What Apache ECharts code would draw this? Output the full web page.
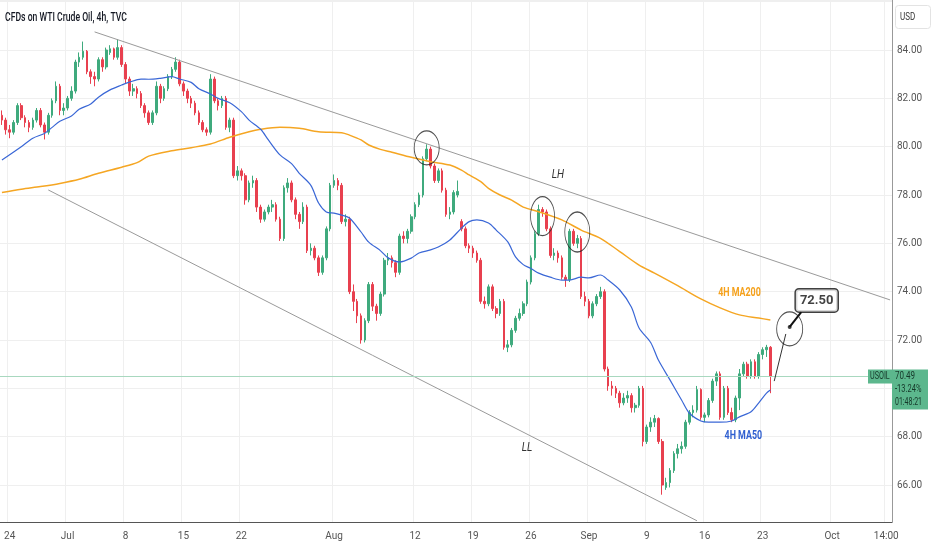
<!DOCTYPE html>
<html>
<head>
<meta charset="utf-8">
<script src="https://cdn.jsdelivr.net/npm/echarts/dist/echarts.min.js"></script>
<style>html,body{margin:0;padding:0;background:#fff}#chart{width:932px;height:550px}</style>
</head>
<body>
<div id="chart"></div>
<script>
// 4h-ish bars, 3 per trading day, weekends skipped like TradingView
var firstDay = '2024-06-21', lastDay = '2024-10-08';
var barHours = ['00', '08', '16'];

var tickCats = ['2024-06-24 00','2024-07-01 00','2024-07-08 00','2024-07-15 00','2024-07-22 00','2024-08-01 00','2024-08-12 00',
  '2024-08-19 00','2024-08-26 00','2024-09-02 00','2024-09-09 00','2024-09-16 00','2024-09-23 00','2024-10-01 00','2024-10-07 16'];
var tickText = ['24','Jul','8','15','22','Aug','12','19','26','Sep','9','16','23','Oct','14:00'];

// OHLC
var opens = [81.3,81.1,80.7,80.6,81.0,81.7,81.2,81.0,80.8,81.1,81.5,80.9,80.6,81.3,81.9,82.5,81.5,81.6,82.0,82.3,
  83.5,83.7,83.95,83.1,82.9,82.8,83.6,83.3,83.9,84.05,83.7,84.1,83.4,82.8,82.3,82.4,82.2,81.7,81.4,81.0,
  81.4,82.5,82.0,82.4,82.9,83.2,83.5,82.6,82.3,82.0,81.8,81.4,81.0,80.7,80.6,82.8,81.9,81.7,82.0,80.8,
  81.1,78.8,79.0,78.8,77.8,78.5,78.6,77.5,77.0,77.3,77.5,77.6,77.0,76.2,78.3,78.5,77.8,77.2,76.9,77.5,
  75.7,75.8,75.4,74.8,75.4,76.6,78.4,78.6,78.4,76.9,77.0,74.0,73.6,73.0,72.0,72.8,74.3,73.4,73.1,73.9,
  75.3,75.4,75.2,74.8,76.3,76.2,76.5,77.1,77.6,78.0,79.5,79.9,79.2,78.6,79.0,78.2,77.2,77.3,78.0,76.9,
  76.6,75.9,75.8,75.6,75.3,73.6,73.5,74.2,73.3,73.1,73.6,71.7,71.8,72.4,72.9,73.1,73.5,74.4,75.4,76.4,
  77.4,77.3,76.6,75.5,75.6,75.4,74.6,74.5,76.5,76.0,76.2,73.8,73.6,73.0,73.5,73.8,74.0,70.8,70.1,70.0,
  69.8,69.4,69.6,69.7,69.2,69.3,70.0,67.8,68.4,68.6,68.75,67.8,65.9,66.1,66.6,67.3,67.5,67.6,68.6,69.0,
  69.1,69.95,68.8,68.9,69.5,70.3,70.6,68.8,70.0,69.0,68.7,69.6,70.6,71.0,70.5,71.1,70.5,71.4,71.6,71.7];
var closes = [81.1,80.7,80.6,81.0,81.7,81.2,81.0,80.8,81.1,81.5,80.9,80.6,81.3,81.9,82.5,81.5,81.6,82.0,82.3,83.5,
  83.7,83.95,83.1,82.9,82.8,83.6,83.3,84.0,84.05,83.7,84.1,83.4,82.8,82.3,82.4,82.2,81.7,81.4,81.0,81.4,
  82.5,82.0,82.4,82.9,83.2,83.5,82.6,82.3,82.0,81.8,81.4,81.0,80.7,80.6,82.8,81.9,81.7,82.0,80.8,81.1,
  78.8,79.0,78.8,77.8,78.5,78.6,77.5,77.0,77.3,77.5,77.6,77.0,76.2,78.3,78.5,77.8,77.2,76.9,77.5,75.7,
  75.8,75.4,74.8,75.4,76.6,78.4,78.6,78.4,76.9,77.0,74.0,73.6,73.0,72.0,72.8,74.3,73.4,73.1,73.9,75.3,
  75.4,75.2,74.8,76.3,76.2,76.5,77.1,77.6,78.0,79.5,79.9,79.2,78.6,79.0,78.2,77.2,77.3,78.1,78.15,76.6,
  75.9,75.8,75.6,75.3,73.6,73.5,74.2,73.3,73.1,73.6,71.7,71.8,72.4,72.9,73.1,73.5,74.4,75.4,76.4,77.4,
  77.3,76.6,75.5,75.6,75.4,74.6,74.5,76.5,76.0,76.2,73.8,73.6,73.0,73.5,73.8,74.0,70.8,70.1,70.0,69.8,
  69.4,69.6,69.7,69.2,69.3,70.0,67.8,68.4,68.6,68.75,67.8,66.0,66.1,66.6,67.3,67.5,67.6,68.6,69.0,69.1,
  69.95,68.8,68.9,69.5,70.3,70.6,68.8,70.0,69.0,68.7,69.6,70.6,71.0,70.5,71.1,70.5,71.4,71.6,71.7,70.49];
var lows = [80.9,80.5,80.35,80.5,80.9,81.1,80.8,80.6,80.7,81.0,80.8,80.3,80.5,81.2,81.8,81.3,81.3,81.5,81.9,82.2,
  83.3,83.6,83.0,82.6,82.5,82.7,83.1,83.2,83.8,83.6,83.6,83.3,82.6,82.1,82.1,82.0,81.6,81.2,80.9,80.9,
  81.3,81.8,81.9,82.3,82.8,83.1,82.5,82.1,81.8,81.6,81.3,80.9,80.6,80.45,80.5,81.8,81.5,81.6,80.7,80.6,
  78.7,78.6,78.6,77.6,77.7,78.3,77.3,76.85,76.9,77.2,77.3,76.9,76.1,76.1,78.1,77.7,77.0,76.6,76.8,75.6,
  75.5,75.3,74.65,74.7,75.3,76.5,78.3,78.2,76.8,76.7,73.9,73.2,72.7,71.85,71.9,72.7,73.2,72.8,73.0,73.8,
  75.1,75.0,74.6,74.7,76.0,76.0,76.4,77.0,77.5,77.9,79.4,79.1,78.5,78.5,78.1,77.1,77.0,77.2,77.9,76.5,
  75.8,75.6,75.4,75.2,73.5,73.3,73.4,73.2,72.9,73.0,71.6,71.5,71.7,72.3,72.8,73.0,73.4,74.3,75.3,76.3,
  77.1,76.5,75.4,75.3,75.2,74.5,74.2,74.4,75.9,75.8,73.7,73.4,72.9,72.9,73.4,73.7,70.7,69.9,69.7,69.6,
  69.2,69.3,69.4,69.0,69.0,69.2,67.6,67.7,68.2,68.4,67.7,65.6,65.8,65.9,66.5,67.1,67.3,67.5,68.5,68.8,
  69.0,68.7,68.6,68.8,69.4,70.1,68.7,68.7,68.9,68.6,68.6,69.1,70.5,70.4,70.4,70.4,70.4,71.2,71.3,69.8];
var highs = [81.5,81.2,80.9,81.1,81.8,81.8,81.3,81.1,81.2,81.6,81.6,81.0,81.4,82.0,82.7,82.6,81.8,82.1,82.5,83.6,
  83.9,84.35,84.0,83.2,83.1,83.7,83.7,84.1,84.2,84.1,84.45,84.2,83.5,82.9,82.6,82.5,82.3,81.8,81.5,81.5,
  82.7,82.6,82.5,83.0,83.3,83.7,83.6,82.7,82.4,82.1,81.9,81.5,81.1,80.8,83.0,82.9,82.0,82.1,82.1,81.2,
  81.2,79.2,79.1,78.9,78.6,78.8,78.7,77.6,77.4,77.6,77.8,77.7,77.1,78.4,78.7,78.6,77.9,77.3,77.7,77.6,
  76.0,75.9,75.5,75.5,76.7,78.5,78.85,78.7,78.5,77.2,77.1,74.3,73.7,73.1,72.9,74.4,74.4,73.5,74.0,75.4,
  75.6,75.5,75.3,76.4,76.5,76.6,77.2,77.7,78.1,79.6,80.1,80.0,79.3,79.1,79.1,78.3,77.5,78.2,78.6,77.0,
  76.7,76.0,75.9,75.7,75.4,73.8,74.3,74.3,73.4,73.7,73.7,72.0,72.5,73.0,73.3,73.6,74.5,75.5,76.5,77.6,
  77.5,77.4,76.7,75.8,75.7,75.5,74.7,76.6,76.6,76.35,76.3,74.0,73.7,73.6,73.9,74.2,74.1,70.9,70.3,70.1,
  69.9,69.8,69.9,69.8,69.4,70.1,70.1,68.5,68.8,68.9,68.8,67.9,66.3,66.7,67.4,67.7,67.8,68.7,69.1,69.3,
  70.1,70.0,69.0,69.6,70.4,70.7,70.7,70.1,70.1,69.2,69.7,70.8,71.1,71.1,71.2,71.2,71.5,71.7,71.8,71.75];

// moving averages: [bar, price]
var ma50 = [[0,79.45],[5,80.0],[8,80.35],[11,80.55],[13,80.8],[15,81.05],[18,81.27],[20,81.55],[23,81.77],[25,82.05],
  [28,82.35],[31,82.55],[33,82.67],[36,82.8],[38,82.79],[41,82.83],[44,82.9],[46,82.8],[49,82.66],[51,82.4],
  [54,82.18],[56,82.0],[59,81.82],[62,81.45],[64,81.1],[67,80.72],[69,80.28],[72,79.66],[75,79.3],[77,78.9],
  [80,78.4],[82,77.67],[84,77.3],[86,77.25],[88,77.17],[90,77.05],[93,76.47],[95,76.05],[98,75.7],[100,75.4],
  [103,75.23],[106,75.39],[108,75.6],[111,75.73],[113,75.85],[116,76.14],[119,76.63],[121,76.9],[123,76.97],[126,76.84],
  [128,76.55],[131,76.06],[133,75.44],[135,75.12],[137,74.96],[139,74.77],[142,74.6],[145,74.48],[147,74.48],[150,74.6],
  [152,74.57],[155,74.69],[157,74.48],[160,74.07],[163,73.37],[165,72.5],[168,71.9],[170,71.17],[173,70.35],[176,69.52],
  [178,68.98],[181,68.65],[183,68.6],[186,68.6],[189,68.65],[191,68.82],[194,69.03],[196,69.4],[198,69.8],[199,69.93]];
var ma200 = [[0,78.1],[5,78.24],[10,78.35],[15,78.48],[20,78.65],[25,78.9],[31,79.15],[35,79.34],[38,79.61],[44,79.83],
  [49,79.96],[54,80.11],[59,80.39],[64,80.62],[67,80.72],[72,80.8],[77,80.76],[82,80.62],[88,80.58],[90,80.48],
  [93,80.28],[95,80.07],[98,79.89],[101,79.77],[106,79.56],[111,79.38],[116,79.24],[119,79.03],[121,78.83],[124,78.55],
  [126,78.28],[129,78.0],[132,77.79],[135,77.5],[139,77.31],[145,76.97],[150,76.55],[155,76.21],[160,75.66],[165,75.1],
  [169,74.77],[175,74.25],[181,73.7],[186,73.33],[191,73.04],[196,72.91],[199,72.83]];

// channel lines: [bar, price]
var upperLine = [[24, 84.75], [230, 73.66]];
var lowerLine = [[12, 78.21], [180, 64.52]];

var circles = [[110, 79.95, 25, 34], [140, 77.13, 24, 39], [149, 76.47, 25, 40], [204, 72.46, 26, 34]];
var notes = [['LH', 144, 78.83, '#333'], ['LL', 136, 67.53, '#333'], ['4H MA200', 191, 73.95, '#f5a11c'], ['4H MA50', 192, 68.03, '#2f5fd0']];
var target = [204, 72.54], targetText = '72.50', calloutAt = [211, 73.64], leaderFrom = [207, 73.15];
var arrowFrom = [200, 70.3], arrowTo = [203, 72.25];
var lastPrice = 70.49, lastChange = '-13.24%', lastTimer = '01:48:21', symbolName = 'USOIL';
var titleText = 'CFDs on WTI Crude Oil, 4h, TVC';

// ---------------------------------------------------------------
var categories = [];
for (var d = new Date(firstDay + 'T00:00:00Z'); d <= new Date(lastDay + 'T00:00:00Z'); d.setUTCDate(d.getUTCDate() + 1)) {
  var wd = d.getUTCDay();
  if (wd === 0 || wd === 6) continue;
  var ds = d.toISOString().slice(0, 10);
  barHours.forEach(function (h) { categories.push(ds + ' ' + h); });
}
categories = categories.slice(1, 232);

var tickMap = {};
tickCats.forEach(function (c, i) { tickMap[c] = tickText[i]; });
var isTick = function (idx, val) { return tickMap[val] !== undefined; };

var candles = opens.map(function (o, i) { return [o, closes[i], lows[i], highs[i]]; });

var UP = '#3faa7d', DOWN = '#e8404f', GREEN_TAG = '#5cb78d';
var font = 'Roboto, "Liberation Sans", sans-serif';

var chart = echarts.init(document.getElementById('chart'));
var option = {
  animation: false,
  backgroundColor: '#fff',
  grid: { left: 0, right: 40, top: 0, bottom: 28 },
  xAxis: {
    type: 'category', data: categories, boundaryGap: true,
    axisLine: { lineStyle: { color: '#555', width: 1 } },
    axisTick: { show: false },
    axisLabel: { interval: isTick, formatter: function (v) { return tickMap[v] || ''; },
      color: '#555', fontSize: 10, margin: 9, fontFamily: font },
    splitLine: { show: true, interval: isTick, lineStyle: { color: '#efefef' } }
  },
  yAxis: {
    type: 'value', position: 'right', min: 64.47, max: 86.07, splitNumber: 11, scale: true,
    axisLine: { show: true, lineStyle: { color: '#999' } },
    axisTick: { show: false },
    axisLabel: { formatter: function (v) { return v > 85 || v < 65 ? '' : v.toFixed(2); }, color: '#555', fontSize: 10,
      margin: 5, fontFamily: font },
    splitLine: { lineStyle: { color: '#efefef' } }
  },
  series: [
    { name: 'upper', type: 'line', data: upperLine, symbol: 'none', silent: true,
      lineStyle: { color: '#9a9a9a', width: 1 } },
    { name: 'lower', type: 'line', data: lowerLine, symbol: 'none', silent: true,
      lineStyle: { color: '#9a9a9a', width: 1 } },
    { name: 'MA200', type: 'line', data: ma200, smooth: 0.3, symbol: 'none',
      lineStyle: { color: '#f5a623', width: 1.5 } },
    { name: 'MA50', type: 'line', data: ma50, smooth: 0.3, symbol: 'none',
      lineStyle: { color: '#3a67d6', width: 1.2 } },
    { name: 'USOIL', type: 'candlestick', data: candles, barWidth: '55%',
      itemStyle: { color: UP, color0: DOWN, borderColor: UP, borderColor0: DOWN, borderWidth: 1 },
      markLine: { silent: true, symbol: ['none', 'none'], label: { show: false },
        lineStyle: { color: '#a8d8bf', type: 'solid', width: 1, opacity: 1 },
        emphasis: { disabled: true },
        data: [{ yAxis: lastPrice }] } },
    { name: 'leader', type: 'line', data: [leaderFrom, target], symbol: 'none',
      lineStyle: { color: '#111', width: 2 },
      markLine: { silent: true, symbol: ['none', 'arrow'], symbolSize: [0, 7], label: { show: false },
        lineStyle: { color: '#333', width: 1, type: 'solid' },
        data: [[{ coord: arrowFrom }, { coord: arrowTo }]] } },
    { name: 'circles', type: 'scatter', silent: true, z: 5,
      data: circles.map(function (c) { return { value: [c[0], c[1]], symbolSize: [c[2], c[3]] }; }),
      itemStyle: { color: 'rgba(0,0,0,0)', borderColor: '#222', borderWidth: 1 } },
    { name: 'callout', type: 'scatter', silent: true, z: 8,
      data: [{ value: target, symbolSize: 4, itemStyle: { color: '#111' } },
        { value: calloutAt, symbolSize: 1, itemStyle: { color: 'rgba(0,0,0,0)' },
          label: { show: true, position: 'inside', formatter: targetText, fontSize: 13, fontWeight: 'bold',
            color: '#111', backgroundColor: '#fff', borderColor: '#111', borderWidth: 1.5, borderRadius: 3,
            padding: [5, 4, 4, 4], fontFamily: font } }] }
  ]
};
chart.setOption(option);

// squeezed texts (the source picture is horizontally compressed)
var gfx = [];
function squeezed(x, y, text, style, sx) {
  gfx.push({ type: 'text', x: x, y: y, scaleX: sx || 0.75, z: 20,
    style: Object.assign({ text: text, fontFamily: font, textVerticalAlign: 'middle' }, style) });
}
function box(x, y, w, h, style) {
  gfx.push({ type: 'rect', left: x, top: y, z: 15, shape: { width: w, height: h, r: style.r || 0 }, style: style });
}
squeezed(5, 18, titleText, { fontSize: 12, fontWeight: 500, fill: '#131722', textAlign: 'left' }, 0.72);
notes.forEach(function (n) {
  var p = chart.convertToPixel({ xAxisIndex: 0, yAxisIndex: 0 }, [n[1], n[2]]);
  var big = n[0].length > 2;
  squeezed(p[0], p[1], n[0], { fontSize: 12, fontWeight: big ? 'bold' : 'normal',
    fontStyle: big ? 'normal' : 'italic', fill: n[3], textAlign: 'center' }, big ? 0.74 : 0.85);
});

// price tags on the axis
var py = chart.convertToPixel({ yAxisIndex: 0 }, lastPrice);
box(895, 5, 35, 23, { fill: '#fff', stroke: '#e3e3e3', lineWidth: 1, r: 3 });
squeezed(900, 17, 'USD', { fontSize: 10, fill: '#333', textAlign: 'left' }, 0.8);
box(868, py - 7, 24, 14, { fill: GREEN_TAG });
squeezed(870, py, symbolName, { fontSize: 10, fill: '#16382a', textAlign: 'left' }, 0.72);
box(892, py - 7, 36, 40, { fill: GREEN_TAG });
squeezed(895, py, lastPrice.toFixed(2), { fontSize: 10, fill: '#16382a', textAlign: 'left' }, 0.8);
squeezed(895, py + 13, lastChange, { fontSize: 10, fill: '#16382a', textAlign: 'left' }, 0.75);
squeezed(895, py + 26, lastTimer, { fontSize: 10, fill: '#16382a', textAlign: 'left' }, 0.7);
chart.setOption({ graphic: gfx });
</script>
</body>
</html>
